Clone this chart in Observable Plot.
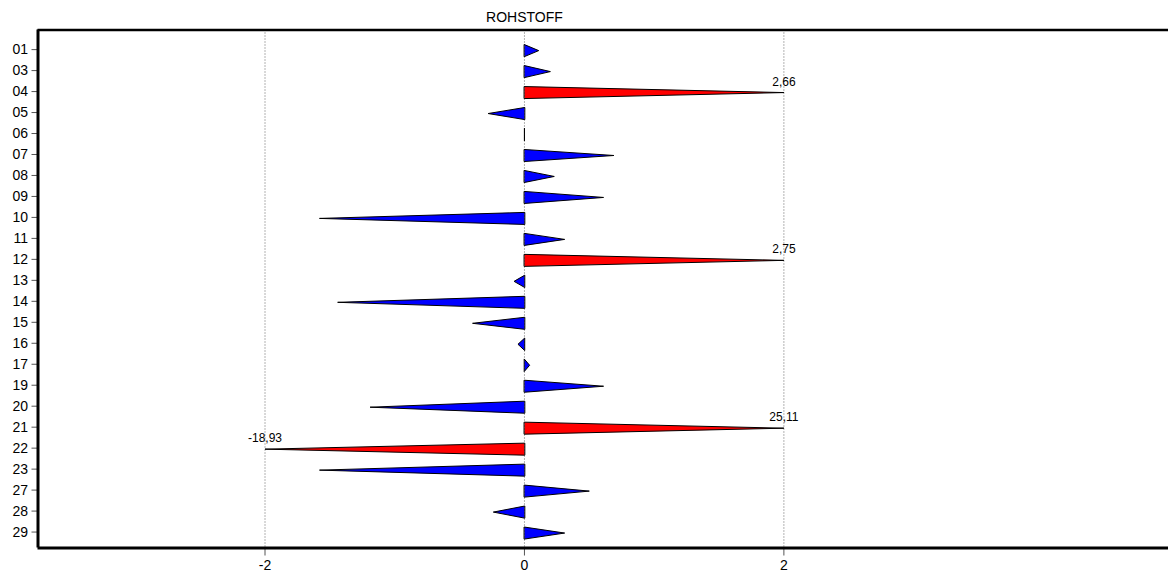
<!DOCTYPE html>
<html>
<head>
<meta charset="utf-8">
<script src="https://cdn.jsdelivr.net/npm/d3@7"></script>
<script src="https://cdn.jsdelivr.net/npm/@observablehq/plot@0.6"></script>
<style>
  html, body { margin: 0; padding: 0; background: #fff; }
  #chart svg { display: block; }
</style>
</head>
<body>
<div id="chart"></div>
<script>
const title = "ROHSTOFF";
const categories = ["01","03","04","05","06","07","08","09","10","11","12","13","14","15","16","17","19","20","21","22","23","27","28","29"];
const values = [0.11, 0.20, 2.66, -0.28, 0.00, 0.69, 0.23, 0.61, -1.58, 0.31, 2.75, -0.08, -1.44, -0.40, -0.05, 0.04, 0.61, -1.19, 25.11, -18.93, -1.58, 0.50, -0.24, 0.31];
const limit = 2;
const xTicks = [-2, 0, 2];
const normalColor = "#0000ff";
const overColor = "#ff0000";

const rows = categories.map((cat, i) => {
  const v = values[i];
  const shown = Math.max(-limit, Math.min(limit, v));
  return {cat, i, v, shown, over: Math.abs(v) > limit};
});

const half = 0.286; // triangle half-height in band units
const tri = rows.flatMap(r => [
  {cat: r.cat, x: 0, y: r.i - half, c: r.over ? overColor : normalColor},
  {cat: r.cat, x: r.shown, y: r.i, c: r.over ? overColor : normalColor},
  {cat: r.cat, x: 0, y: r.i + half, c: r.over ? overColor : normalColor}
]);
const overRows = rows.filter(r => r.over);
const fmt = v => d3.format(".2f")(v).replace("−", "-").replace(".", ",");

const xDomain = [-3.75, 4.965];
const yDomain = [-0.935, 23.76];
const font = "'Liberation Sans', Arial, sans-serif";

const chart = Plot.plot({
  width: 1168,
  height: 573,
  marginLeft: 37.5,
  marginRight: 0,
  marginTop: 29.5,
  marginBottom: 25.5,
  style: {fontFamily: font, fontSize: "14px", color: "black", background: "white"},
  x: {domain: xDomain},
  y: {domain: yDomain, reverse: true},
  color: {type: "identity"},
  marks: [
    Plot.gridX(xTicks, {stroke: "#666", strokeOpacity: 1, strokeDasharray: "1,2"}),
    Plot.axisX(xTicks, {tickSize: 8, tickPadding: 4, stroke: "#555", fontSize: 14, label: null, tickFormat: d => String(d).replace("−", "-")}),
    Plot.axisY(d3.range(categories.length), {tickSize: 6, tickPadding: 4, stroke: "#555", fontSize: 14, label: null, tickFormat: i => categories[i]}),
    Plot.line(tri, {x: "x", y: "y", z: "cat", fill: "c", stroke: "black", strokeWidth: 1, curve: "linear-closed", dy: 1}),
    Plot.text(overRows, {x: "shown", y: "i", text: d => fmt(d.v), lineAnchor: "bottom", dy: -6, fontSize: 12, fill: "black"}),
    Plot.text([0], {x: d => d, frameAnchor: "top", lineAnchor: "bottom", dy: -8, text: () => title, fontSize: 14, fill: "black"}),
    Plot.ruleX([xDomain[0]], {stroke: "black", strokeWidth: 3}),
    Plot.ruleY([yDomain[0]], {stroke: "black", strokeWidth: 2.5}),
    Plot.ruleY([yDomain[1]], {stroke: "black", strokeWidth: 3})
  ]
});
document.getElementById("chart").appendChild(chart);
</script>
</body>
</html>
